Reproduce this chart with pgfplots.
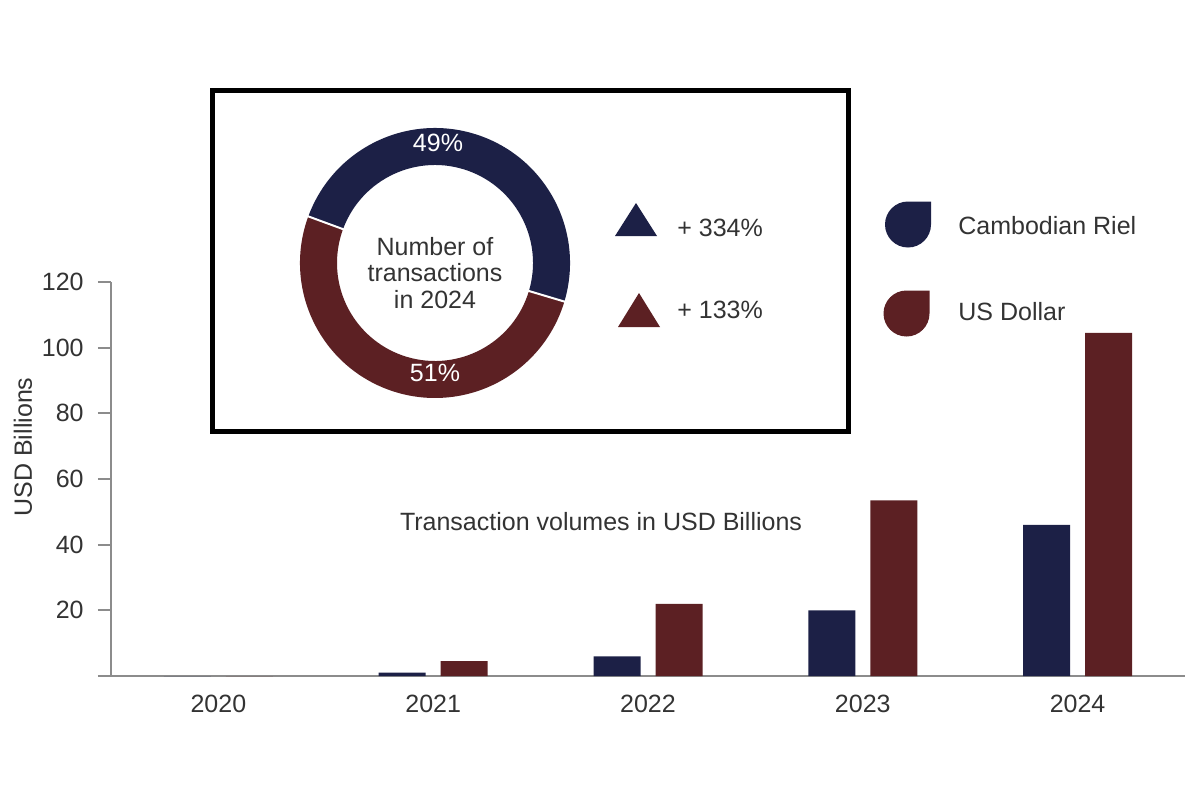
\documentclass[border=0pt]{standalone}
\usepackage{fontspec}
\setmainfont{Liberation Sans}
\usepackage{pgfplots}
\usepackage{pgfplotstable}
\pgfplotsset{compat=1.18}

\definecolor{riel}{HTML}{1C2046}
\definecolor{usd}{HTML}{5C2023}
\definecolor{axisgray}{HTML}{8C8C8C}
\definecolor{textgray}{HTML}{333333}

% Transaction volumes, USD billions
\pgfplotstableread{
idx year riel usd
0 2020 0 0
1 2021 1 4.5
2 2022 6 22
3 2023 20 53.5
4 2024 46 104.5
}\volumes

% Share of the number of transactions in 2024 (percent)
\pgfmathsetmacro{\rielshare}{49}
\pgfmathsetmacro{\usdshare}{51}

\begin{document}
\begin{tikzpicture}[font=\fontsize{12.5}{15}\selectfont]
\path[use as bounding box] (0,0) rectangle (600pt,400pt);

\begin{axis}[
  at={(55.5pt,62pt)}, anchor=south west,
  scale only axis, width=537pt, height=197pt,
  xmin=-0.5, xmax=4.5, ymin=0, ymax=120,
  axis lines=left,
  axis line style={-, draw=axisgray, line width=1pt},
  ytick={0,20,...,120}, yticklabels={,20,40,60,80,100,120},
  tick align=outside, major tick length=6.5pt,
  ytick style={draw=axisgray, line width=1pt},
  xtick={0,...,4}, xticklabels={2020,2021,2022,2023,2024},
  xtick style={draw=none},
  tick label style={font=\fontsize{12.5}{15}\selectfont, text=textgray},
  /pgf/number format/assume math mode=true,
  yticklabel style={inner sep=0pt, xshift=-7pt},
  xticklabel style={inner sep=0pt, yshift=-3pt},
  clip=false,
]
\addplot[ybar, bar width=23.5pt, bar shift=-15.5pt, fill=riel, draw=none]
  table[x=idx, y=riel] {\volumes};
\addplot[ybar, bar width=23.5pt, bar shift=15.5pt, fill=usd, draw=none]
  table[x=idx, y=usd] {\volumes};
\end{axis}

% axis title and caption
\node[rotate=90, text=textgray] at (11.5pt,176.5pt) {USD Billions};
\node[text=textgray] at (300.5pt,139pt) {Transaction volumes in USD Billions};

% inset frame
\draw[black, line width=2.5pt] (106pt,184.5pt) rectangle (424pt,354.5pt);

% donut of transaction counts
\pgfmathsetmacro{\segA}{-16.6}
\pgfmathsetmacro{\segB}{\segA+3.6*\rielshare}
\pgfmathsetmacro{\segC}{\segB+3.6*\usdshare}
\begin{scope}[shift={(217.5pt,268.5pt)}]
  \fill[riel] (\segA:67.5pt) arc[start angle=\segA, end angle=\segB, radius=67.5pt]
    -- (\segB:49pt) arc[start angle=\segB, end angle=\segA, radius=49pt] -- cycle;
  \fill[usd] (\segB:67.5pt) arc[start angle=\segB, end angle=\segC, radius=67.5pt]
    -- (\segC:49pt) arc[start angle=\segC, end angle=\segB, radius=49pt] -- cycle;
  \draw[white, line width=1pt] (\segA:48pt) -- (\segA:68.5pt) (\segB:48pt) -- (\segB:68.5pt);
\end{scope}
\node[white] at (219pt,328.5pt)
  {\pgfmathprintnumber[assume math mode=true]{\rielshare}\%};
\node[white] at (217.5pt,213.5pt)
  {\pgfmathprintnumber[assume math mode=true]{\usdshare}\%};
\node[text=textgray, align=center, font=\fontsize{12.5}{13.3}\selectfont]
  at (217.5pt,263.5pt) {Number of\\transactions\\in 2024};

% growth markers
\fill[riel] (307.5pt,282pt) -- (328.5pt,282pt) -- (318pt,298.5pt) -- cycle;
\fill[usd] (309pt,236.5pt) -- (330pt,236.5pt) -- (319.5pt,253.5pt) -- cycle;
\node[anchor=west, inner sep=0pt, text=textgray] at (338.5pt,286pt) {+ 334\%};
\node[anchor=west, inner sep=0pt, text=textgray] at (338.5pt,245pt) {+ 133\%};

% legend
\fill[riel] (465.5pt,299.25pt) -- (465.5pt,287.75pt)
  arc[start angle=0, end angle=-270, radius=11.5pt] -- cycle;
\fill[usd] (464.75pt,254.75pt) -- (464.75pt,243.25pt)
  arc[start angle=0, end angle=-270, radius=11.5pt] -- cycle;
\node[anchor=west, inner sep=0pt, text=textgray] at (479pt,287pt) {Cambodian Riel};
\node[anchor=west, inner sep=0pt, text=textgray] at (479pt,244pt) {US Dollar};
\end{tikzpicture}
\end{document}
